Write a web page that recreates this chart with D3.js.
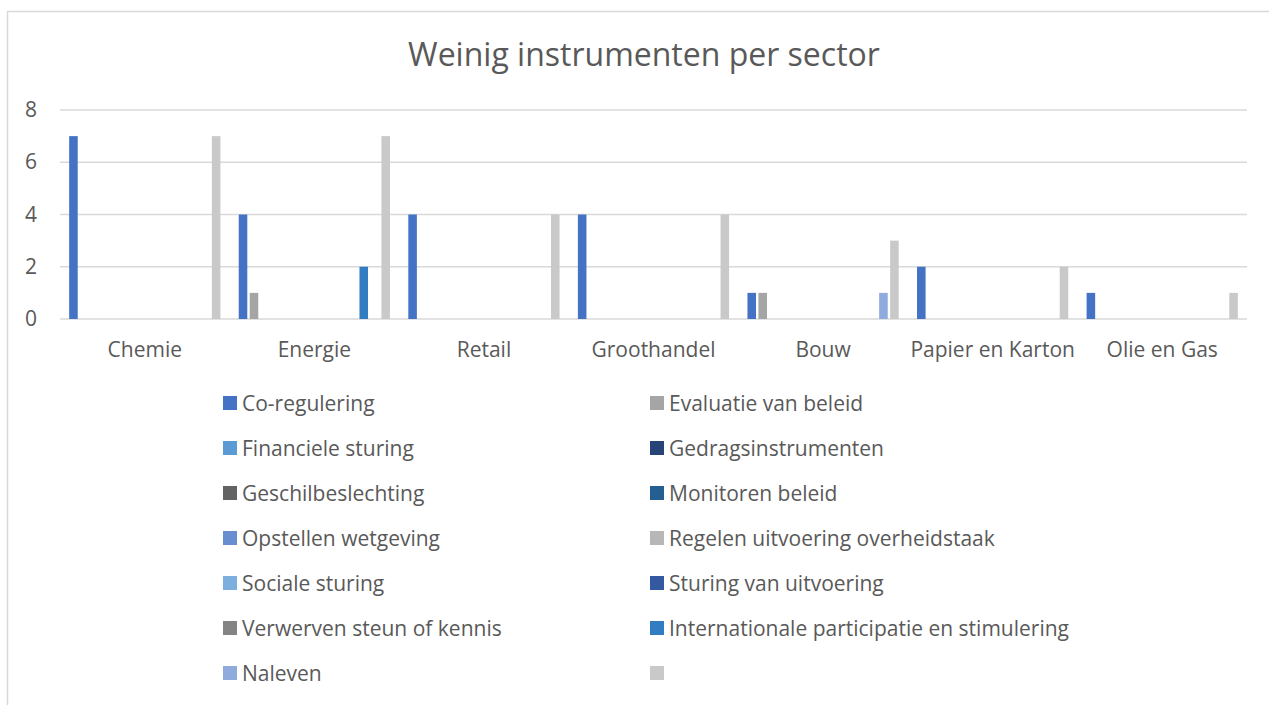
<html>
<head>
  <meta charset="utf-8">
  <title>Weinig instrumenten per sector</title>
  <script src="https://cdnjs.cloudflare.com/ajax/libs/d3/7.8.5/d3.min.js"></script>
  <style>
    body { margin: 0; background: #fff; }
    text { font-family: "Open Sans", "Noto Sans", sans-serif; fill: #595959; }
  </style>
</head>
<body>
  <script>
    // sectoren op de x-as
    const sectors = [ "Chemie", "Energie", "Retail", "Groothandel", "Bouw", "Papier en Karton", "Olie en Gas" ];

    // reeksen (volgorde zoals in de legenda)
    const seriesNames = [
      "Co-regulering", "Evaluatie van beleid",
      "Financiele sturing", "Gedragsinstrumenten",
      "Geschilbeslechting", "Monitoren beleid",
      "Opstellen wetgeving", "Regelen uitvoering overheidstaak",
      "Sociale sturing", "Sturing van uitvoering",
      "Verwerven steun of kennis", "Internationale participatie en stimulering",
      "Naleven", ""
    ];

    const seriesColors = [
      "#4472C4", "#A5A5A5", "#5B9BD5", "#264478", "#636363", "#255E91", "#698ED0",
      "#B7B7B7", "#7CAFDD", "#335AA1", "#848484", "#327DC2", "#8FAADC", "#C9C9C9"
    ];

    // aantallen per reeks, per sector
    const coRegulering   = [ 7, 4, 4, 4, 1, 2, 1 ];
    const evaluatie      = [ 0, 1, 0, 0, 1, 0, 0 ];
    const financieel     = [ 0, 0, 0, 0, 0, 0, 0 ];
    const gedrag         = [ 0, 0, 0, 0, 0, 0, 0 ];
    const geschil        = [ 0, 0, 0, 0, 0, 0, 0 ];
    const monitoren      = [ 0, 0, 0, 0, 0, 0, 0 ];
    const wetgeving      = [ 0, 0, 0, 0, 0, 0, 0 ];
    const regelen        = [ 0, 0, 0, 0, 0, 0, 0 ];
    const sociaal        = [ 0, 0, 0, 0, 0, 0, 0 ];
    const sturing        = [ 0, 0, 0, 0, 0, 0, 0 ];
    const verwerven      = [ 0, 0, 0, 0, 0, 0, 0 ];
    const internationaal = [ 0, 2, 0, 0, 0, 0, 0 ];
    const naleven        = [ 0, 0, 0, 0, 1, 0, 0 ];
    const totaal         = [ 7, 7, 4, 4, 3, 2, 1 ];

    const yTicks = [ 0, 2, 4, 6, 8 ];

    const seriesValues = [ coRegulering, evaluatie, financieel, gedrag, geschil, monitoren,
      wetgeving, regelen, sociaal, sturing, verwerven, internationaal, naleven, totaal ];

    const width = 1269, height = 705;

    const svg = d3.select( "body" )
      .append( "svg" )
      .attr( "width", width )
      .attr( "height", height );

    // rand van de grafiek
    svg.append( "rect" )
      .attr( "x", 7.5 ).attr( "y", 11.5 )
      .attr( "width", 1290 ).attr( "height", 720 )
      .attr( "fill", "none" )
      .attr( "stroke", "#D9D9D9" )
      .attr( "stroke-width", 1.5 );

    svg.append( "text" )
      .attr( "x", 644 ).attr( "y", 66 )
      .attr( "text-anchor", "middle" )
      .style( "font-size", "32px" )
      .text( "Weinig instrumenten per sector" );

    const x = d3.scaleBand()
      .domain( sectors )
      .range( [60, 1247] );

    const xInner = d3.scaleBand()
      .domain( d3.range( seriesNames.length ) )
      .range( [0, x.bandwidth()] )
      .paddingInner( 0.22 )
      .paddingOuter( 0.835 );

    const y = d3.scaleLinear()
      .domain( [0, 8] )
      .range( [319, 110] );

    // rasterlijnen
    svg.append( "g" )
      .selectAll( "line" )
      .data( yTicks )
      .enter()
      .append( "line" )
      .attr( "x1", 60 ).attr( "x2", 1247 )
      .attr( "y1", d => y( d ) ).attr( "y2", d => y( d ) )
      .attr( "stroke", "#D9D9D9" )
      .attr( "stroke-width", 1.5 );

    const yAxis = svg.append( "g" )
      .attr( "transform", "translate(37,0)" )
      .call( d3.axisLeft( y ).tickValues( yTicks ).tickSize( 0 ).tickPadding( 0 ) );
    yAxis.select( ".domain" ).remove();
    yAxis.selectAll( "text" )
      .style( "font-size", "21px" )
      .style( "font-family", "'Open Sans', sans-serif" )
      .attr( "fill", "#595959" );

    const xAxis = svg.append( "g" )
      .attr( "transform", "translate(0,342)" )
      .call( d3.axisBottom( x ).tickSize( 0 ).tickPadding( 0 ) );
    xAxis.select( ".domain" ).remove();
    xAxis.selectAll( "text" )
      .style( "font-size", "21px" )
      .style( "font-family", "'Open Sans', sans-serif" )
      .attr( "fill", "#595959" );

    // staven
    const groups = svg.append( "g" )
      .selectAll( "g" )
      .data( sectors )
      .enter()
      .append( "g" )
      .attr( "transform", d => "translate(" + x( d ) + ",0)" );

    groups.selectAll( "rect" )
      .data( ( d, i ) => seriesValues.map( ( vals, s ) => ( { s: s, v: vals[i] } ) ).filter( e => e.v > 0 ) )
      .enter()
      .append( "rect" )
      .attr( "x", d => xInner( d.s ) )
      .attr( "width", xInner.bandwidth() )
      .attr( "y", d => y( d.v ) )
      .attr( "height", d => y( 0 ) - y( d.v ) )
      .attr( "fill", d => seriesColors[d.s] );

    // legenda, twee kolommen
    const legend = svg.append( "g" )
      .selectAll( "g" )
      .data( seriesNames )
      .enter()
      .append( "g" )
      .attr( "transform", ( d, i ) => "translate(" + ( i % 2 === 0 ? 223 : 650 ) + "," + ( 396 + Math.floor( i / 2 ) * 45 ) + ")" );

    legend.append( "rect" )
      .attr( "width", 14 ).attr( "height", 14 )
      .attr( "fill", ( d, i ) => seriesColors[i] );

    legend.append( "text" )
      .attr( "x", 19 ).attr( "y", 15 )
      .style( "font-size", "21px" )
      .text( d => d );
  </script>
</body>
</html>
